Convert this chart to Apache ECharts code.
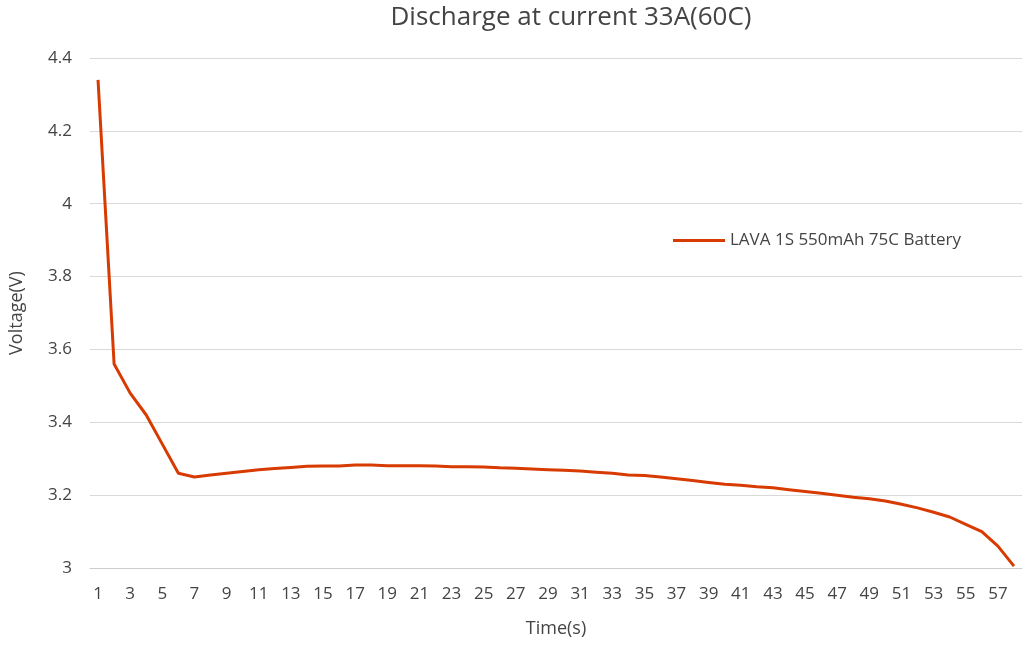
<!DOCTYPE html>
<html><head><meta charset="utf-8">
<script src="https://cdn.jsdelivr.net/npm/echarts@6/dist/echarts.min.js"></script>
<style>html,body{margin:0;padding:0;background:#fff}#c{width:1024px;height:651px}</style>
</head><body><div id="c"></div>
<script>
const categories = Array.from({length:58},(_,i)=>String(i+1));
const voltage = [4.34,3.56,3.48,3.42,3.34,3.26,3.25,3.255,3.26,3.265,3.27,3.273,3.276,3.279,3.28,3.28,3.283,3.283,3.281,3.281,3.281,3.28,3.278,3.278,3.277,3.275,3.274,3.272,3.27,3.268,3.266,3.263,3.26,3.255,3.254,3.25,3.245,3.24,3.235,3.23,3.227,3.223,3.22,3.215,3.21,3.205,3.2,3.194,3.19,3.184,3.175,3.165,3.153,3.14,3.12,3.1,3.06,3.005];
const seriesName = 'LAVA 1S 550mAh 75C Battery';
const font = '"Open Sans", "Noto Sans", sans-serif';
const chart = echarts.init(document.getElementById('c'));
chart.setOption({
  animation:false,
  title:{text:'Discharge at current 33A(60C)',left:566,top:0,textAlign:'center',textStyle:{fontFamily:font,fontSize:26,fontWeight:'normal',color:'#444'}},
  legend:{data:[seriesName],left:668,top:227,itemWidth:52,itemHeight:3,icon:'rect',textStyle:{fontFamily:font,fontSize:17,color:'#444'}},
  grid:{left:79,right:2,top:58,bottom:83},
  xAxis:{type:'category',data:categories,boundaryGap:true,name:'Time(s)',nameLocation:'middle',nameGap:52,
    nameTextStyle:{fontFamily:font,fontSize:18,color:'#444'},
    axisLine:{lineStyle:{color:'#ccc'}},axisTick:{show:false},
    axisLabel:{interval:1,fontFamily:font,fontSize:17,color:'#444',margin:18}},
  yAxis:{type:'value',min:3,max:4.4,interval:0.2,name:'Voltage(V)',nameLocation:'middle',nameGap:64,
    nameTextStyle:{fontFamily:font,fontSize:18,color:'#444'},
    axisLabel:{fontFamily:font,fontSize:17,color:'#444',margin:18,formatter:v=>String(+v.toFixed(1))},
    splitLine:{lineStyle:{color:'#d9d9d9'}}},
  series:[{name:seriesName,type:'line',data:voltage,showSymbol:false,lineStyle:{color:'#D83B01',width:3},itemStyle:{color:'#D83B01'}}]
});
</script></body></html>
